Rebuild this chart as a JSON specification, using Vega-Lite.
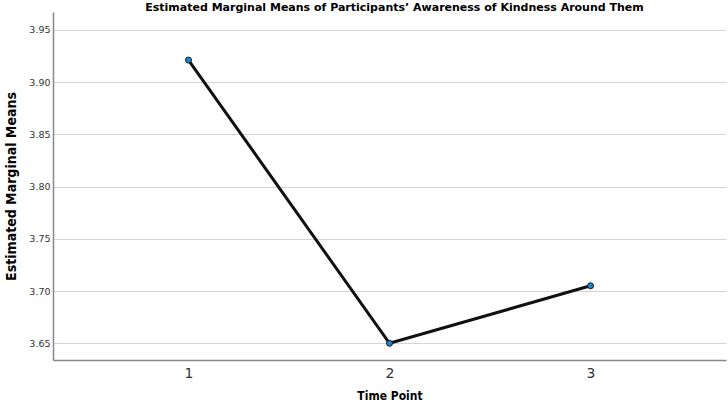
{
  "$schema": "https://vega.github.io/schema/vega-lite/v6.json",
  "autosize": {"type": "none"},
  "padding": {"left": 53, "top": 12, "right": 2, "bottom": 44},
  "width": 673,
  "height": 348,
  "background": "white",
  "title": {
    "text": "Estimated Marginal Means of Participants’ Awareness of Kindness Around Them",
    "font": "DejaVu Sans",
    "fontSize": 11,
    "fontWeight": "bold",
    "color": "#000000",
    "anchor": "middle",
    "offset": -1,
    "dx": 5
  },
  "data": {
    "values": [
      {"time": "1", "mean": 3.921},
      {"time": "2", "mean": 3.650},
      {"time": "3", "mean": 3.705}
    ]
  },
  "config": {
    "view": {"stroke": null},
    "axis": {"labelFont": "DejaVu Sans", "titleFont": "DejaVu Sans Condensed", "titleFontWeight": "bold", "titleColor": "#000000"}
  },
  "encoding": {
    "x": {
      "field": "time",
      "type": "ordinal",
      "scale": {"type": "point", "padding": 0.674},
      "axis": {
        "title": "Time Point",
        "titleFontSize": 12,
        "titlePadding": 10,
        "labelAngle": 0,
        "labelFontSize": 14,
        "labelColor": "#333333",
        "labelPadding": 6,
        "ticks": false,
        "domainColor": "#888888",
        "domainWidth": 1.5,
        "grid": false
      }
    },
    "y": {
      "field": "mean",
      "type": "quantitative",
      "scale": {"domain": [3.634, 3.967], "nice": false, "zero": false},
      "axis": {
        "title": "Estimated Marginal Means",
        "titleFontSize": 14,
        "titlePadding": 10,
        "values": [3.65, 3.70, 3.75, 3.80, 3.85, 3.90, 3.95],
        "format": ".2f",
        "labelFontSize": 9.5,
        "labelColor": "#333333",
        "labelPadding": 3,
        "ticks": false,
        "domainColor": "#888888",
        "domainWidth": 1.5,
        "grid": true,
        "gridColor": "#d4d4d4",
        "gridWidth": 1.2
      }
    }
  },
  "layer": [
    {"mark": {"type": "line", "color": "#111111", "strokeWidth": 3}},
    {"mark": {"type": "point", "filled": true, "fill": "#1a86d0", "stroke": "#1a1a1a", "strokeWidth": 1, "size": 36, "opacity": 1}}
  ]
}
